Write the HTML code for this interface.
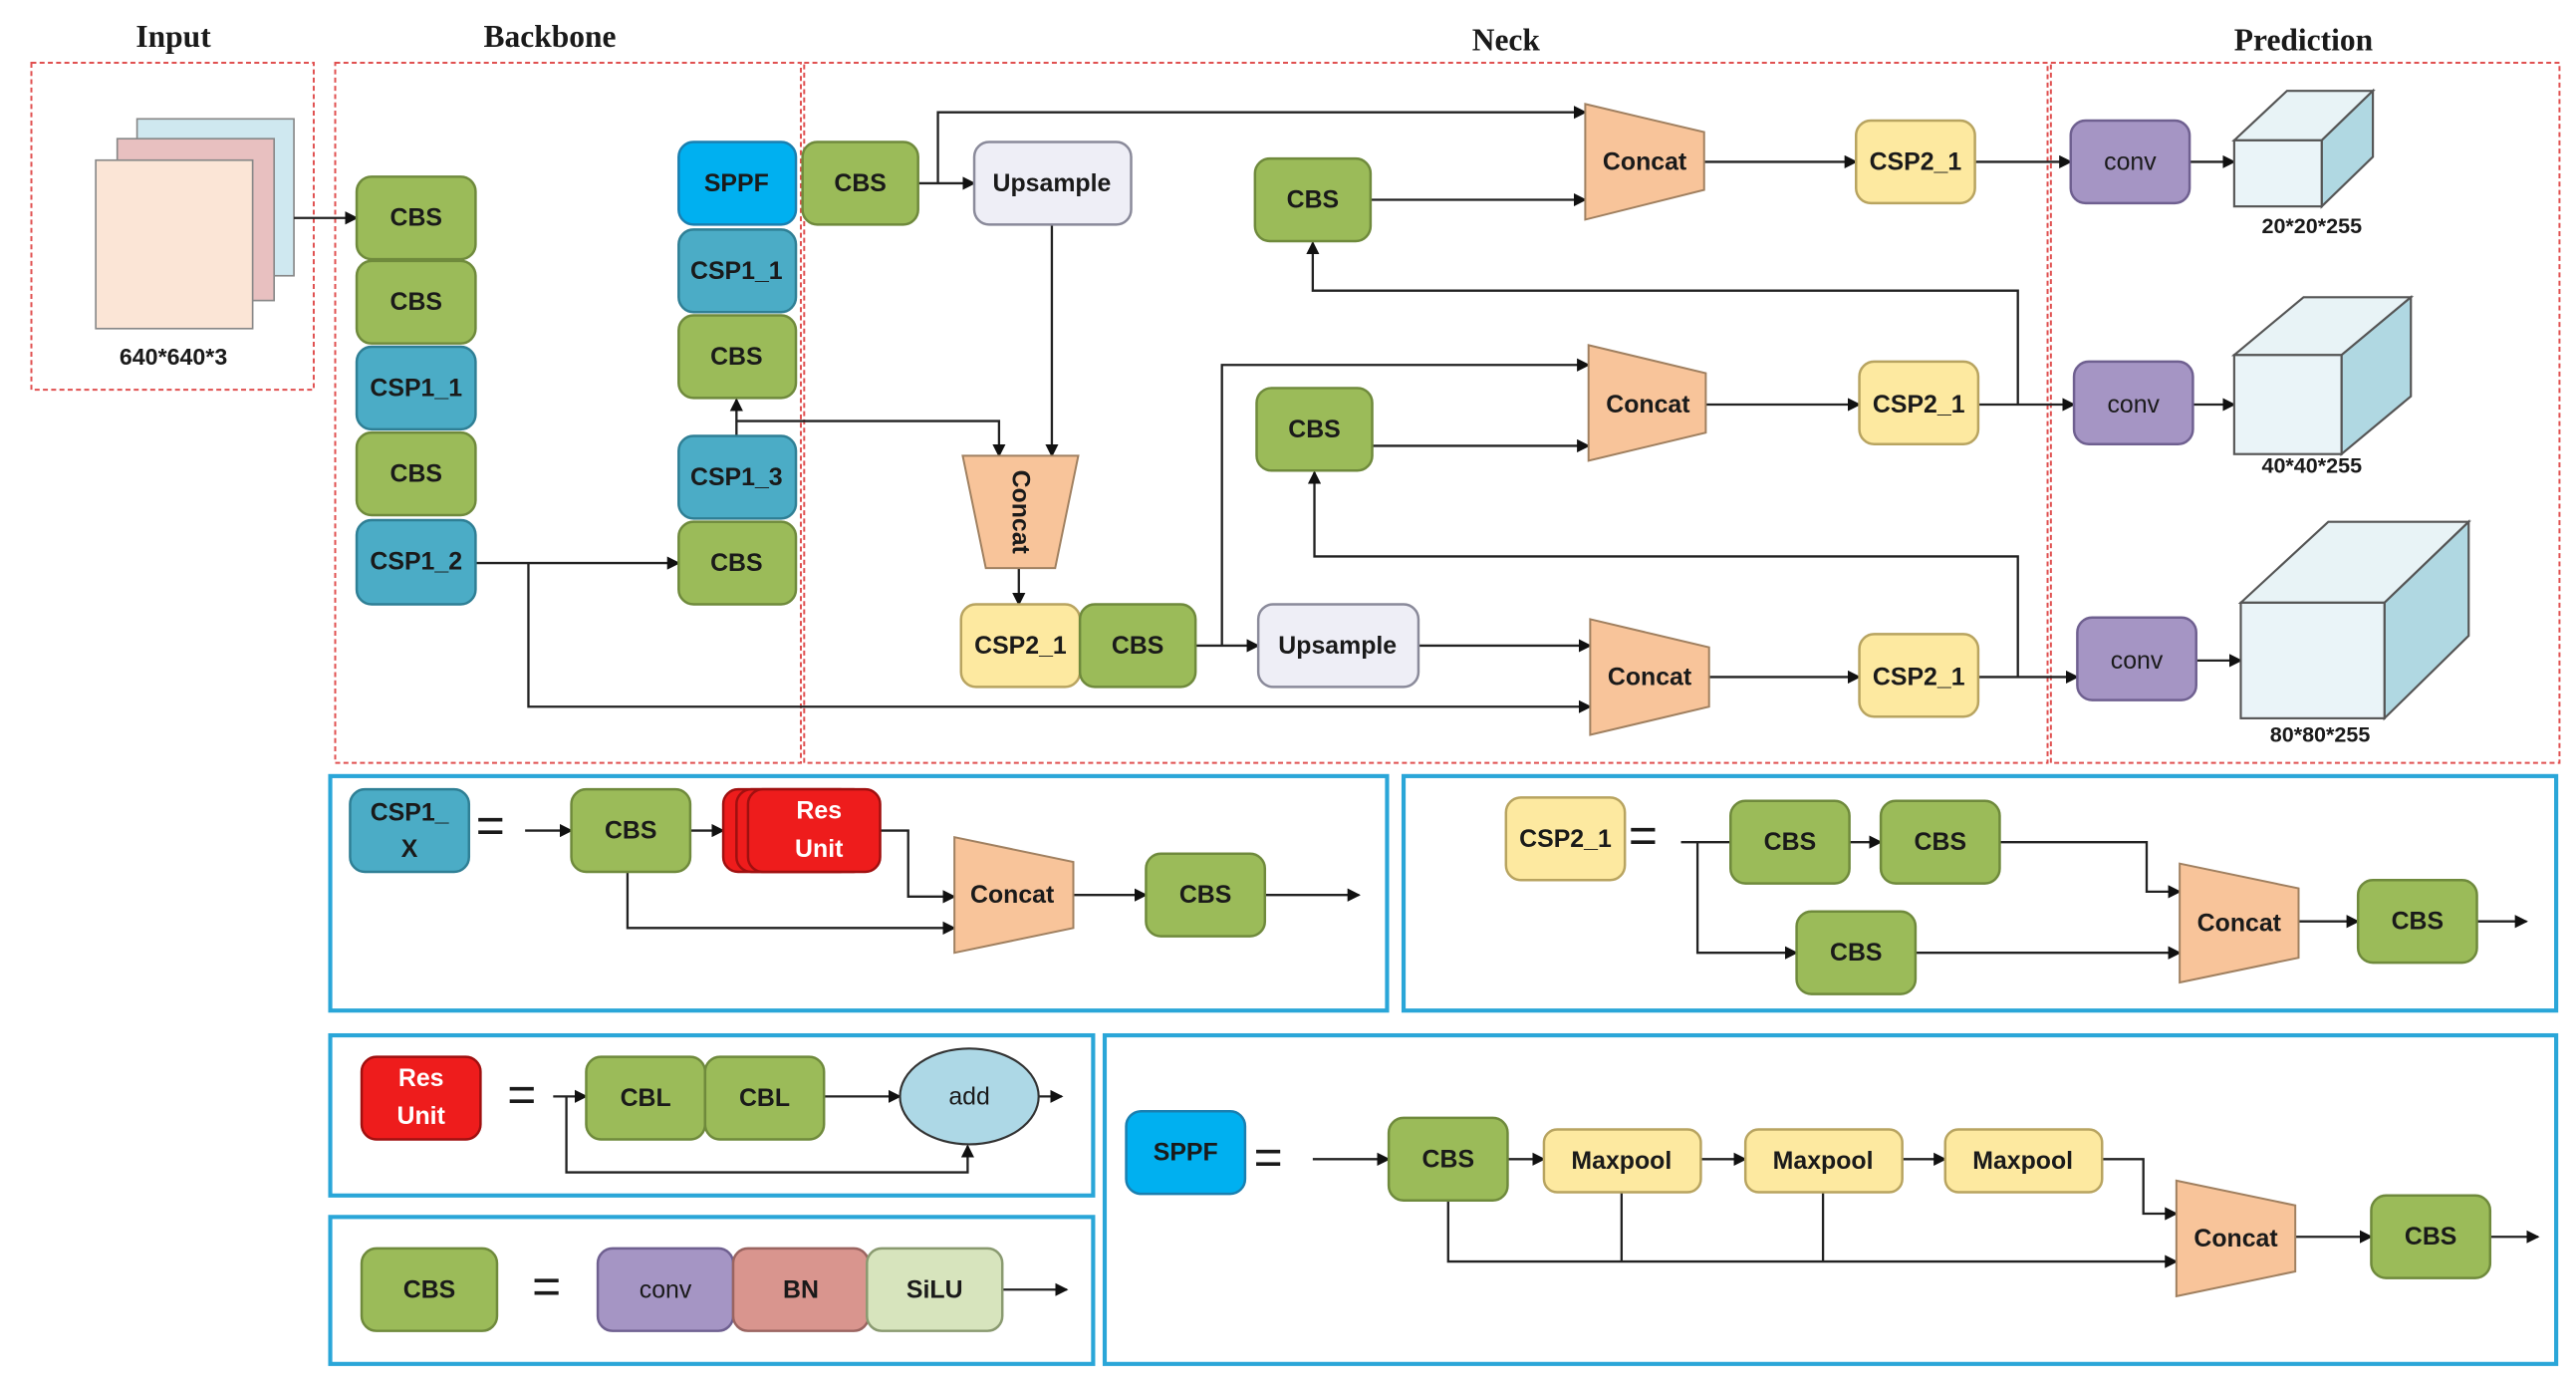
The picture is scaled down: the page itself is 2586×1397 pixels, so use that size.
<!DOCTYPE html>
<html><head><meta charset="utf-8"><style>
html,body{margin:0;padding:0;background:#fff;}
svg{display:block;}
text{font-family:"Liberation Sans",sans-serif;font-weight:bold;font-size:15px;fill:#1a1a1a;text-anchor:middle;dominant-baseline:central;}
.t{font-family:"Liberation Serif",serif;font-size:19px;}
.l{stroke:#222;stroke-width:1.4;fill:none;}
.d{fill:none;stroke:#e05050;stroke-width:1.2;stroke-dasharray:3 2;}
.p{fill:none;stroke:#2aa6d8;stroke-width:2.5;}
.g{fill:#9bbb59;stroke:#6f8a3c;stroke-width:1.5;}
.c{fill:#4bacc6;stroke:#2f7f95;stroke-width:1.5;}
.s{fill:#00b0f0;stroke:#1a7fb0;stroke-width:1.5;}
.y{fill:#fde9a0;stroke:#b8a460;stroke-width:1.5;}
.o{fill:#f8c49a;stroke:#a08060;stroke-width:1.2;}
.v{fill:#a595c4;stroke:#6f6090;stroke-width:1.5;}
.u{fill:#eeeef6;stroke:#8a8a9a;stroke-width:1.5;}
.r{fill:#ee1c1c;stroke:#a01010;stroke-width:1.5;}
.w{fill:#fff;}
</style></head><body>
<svg width="2586" height="1397" viewBox="0 0 1560 843" preserveAspectRatio="none">
<defs><marker id="a" markerWidth="8" markerHeight="8" refX="7" refY="4" orient="auto" markerUnits="userSpaceOnUse"><path d="M0,0 L8,4 L0,8 Z" fill="#111"/></marker></defs>

<text class="t" x="105" y="22">Input</text>
<text class="t" x="333" y="22">Backbone</text>
<text class="t" x="912" y="24">Neck</text>
<text class="t" x="1395" y="24">Prediction</text>

<rect class="d" x="19" y="38" width="171" height="198"/>
<rect class="d" x="203" y="38" width="282" height="424"/>
<rect class="d" x="487" y="38" width="753" height="424"/>
<rect class="d" x="1242" y="38" width="308" height="424"/>

<!-- input -->
<rect x="83" y="72" width="95" height="95" fill="#cfe8f0" stroke="#888"/>
<rect x="71" y="84" width="95" height="98" fill="#e8c0c0" stroke="#888"/>
<rect x="58" y="97" width="95" height="102" fill="#fbe5d6" stroke="#888"/>
<text x="105" y="216" style="font-size:14px">640*640*3</text>

<!-- lines -->
<path class="l" marker-end="url(#a)" d="M178,132 H216"/>
<path class="l" marker-end="url(#a)" d="M288,341 H411"/>
<path class="l" marker-end="url(#a)" d="M320,341 V428 H963"/>
<path class="l" marker-end="url(#a)" d="M556,111 H590"/>
<path class="l" marker-end="url(#a)" d="M568,111 V68 H960"/>
<path class="l" marker-end="url(#a)" d="M637,136 V276"/>
<path class="l" marker-end="url(#a)" d="M446,264 V242"/>
<path class="l" marker-end="url(#a)" d="M446,255 H605 V276"/>
<path class="l" marker-end="url(#a)" d="M617,344 V366"/>
<path class="l" marker-end="url(#a)" d="M724,391 H762"/>
<path class="l" marker-end="url(#a)" d="M740,391 V221 H962"/>
<path class="l" marker-end="url(#a)" d="M859,391 H963"/>
<path class="l" marker-end="url(#a)" d="M831,270 H962"/>
<path class="l" marker-end="url(#a)" d="M830,121 H960"/>
<path class="l" marker-end="url(#a)" d="M1032,98 H1124"/>
<path class="l" marker-end="url(#a)" d="M1196,98 H1254"/>
<path class="l" marker-end="url(#a)" d="M1033,245 H1126"/>
<path class="l" marker-end="url(#a)" d="M1198,245 H1256"/>
<path class="l" marker-end="url(#a)" d="M1035,410 H1126"/>
<path class="l" marker-end="url(#a)" d="M1198,410 H1258"/>
<path class="l" marker-end="url(#a)" d="M1222,245 V176 H795 V147"/>
<path class="l" marker-end="url(#a)" d="M1222,410 V337 H796 V286"/>
<path class="l" marker-end="url(#a)" d="M1326,98 H1353"/>
<path class="l" marker-end="url(#a)" d="M1328,245 H1353"/>
<path class="l" marker-end="url(#a)" d="M1330,400 H1357"/>

<!-- backbone -->
<rect class="g" x="216" y="107" width="72" height="50" rx="9"/><text x="252" y="132">CBS</text>
<rect class="g" x="216" y="158" width="72" height="50" rx="9"/><text x="252" y="183">CBS</text>
<rect class="c" x="216" y="210" width="72" height="50" rx="9"/><text x="252" y="235">CSP1_1</text>
<rect class="g" x="216" y="262" width="72" height="50" rx="9"/><text x="252" y="287">CBS</text>
<rect class="c" x="216" y="315" width="72" height="51" rx="9"/><text x="252" y="340">CSP1_2</text>
<rect class="s" x="411" y="86" width="71" height="50" rx="9"/><text x="446" y="111">SPPF</text>
<rect class="c" x="411" y="139" width="71" height="50" rx="9"/><text x="446" y="164">CSP1_1</text>
<rect class="g" x="411" y="191" width="71" height="50" rx="9"/><text x="446" y="216">CBS</text>
<rect class="c" x="411" y="264" width="71" height="50" rx="9"/><text x="446" y="289">CSP1_3</text>
<rect class="g" x="411" y="316" width="71" height="50" rx="9"/><text x="446" y="341">CBS</text>

<!-- neck -->
<rect class="g" x="486" y="86" width="70" height="50" rx="9"/><text x="521" y="111">CBS</text>
<rect class="u" x="590" y="86" width="95" height="50" rx="9"/><text x="637" y="111">Upsample</text>
<polygon class="o" points="583,276 653,276 639,344 597,344"/>
<text x="618" y="310" transform="rotate(90 618 310)">Concat</text>
<rect class="y" x="582" y="366" width="72" height="50" rx="9"/><text x="618" y="391">CSP2_1</text>
<rect class="g" x="654" y="366" width="70" height="50" rx="9"/><text x="689" y="391">CBS</text>
<rect class="u" x="762" y="366" width="97" height="50" rx="9"/><text x="810" y="391">Upsample</text>
<rect class="g" x="760" y="96" width="70" height="50" rx="9"/><text x="795" y="121">CBS</text>
<rect class="g" x="761" y="235" width="70" height="50" rx="9"/><text x="796" y="260">CBS</text>
<polygon class="o" points="960,63 1032,80 1032,115 960,133"/><text x="996" y="98">Concat</text>
<polygon class="o" points="962,209 1033,226 1033,262 962,279"/><text x="998" y="245">Concat</text>
<polygon class="o" points="963,375 1035,392 1035,428 963,445"/><text x="999" y="410">Concat</text>
<rect class="y" x="1124" y="73" width="72" height="50" rx="9"/><text x="1160" y="98">CSP2_1</text>
<rect class="y" x="1126" y="219" width="72" height="50" rx="9"/><text x="1162" y="245">CSP2_1</text>
<rect class="y" x="1126" y="384" width="72" height="50" rx="9"/><text x="1162" y="410">CSP2_1</text>

<!-- prediction -->
<rect class="v" x="1254" y="73" width="72" height="50" rx="9"/><text x="1290" y="98" style="font-weight:normal">conv</text>
<rect class="v" x="1256" y="219" width="72" height="50" rx="9"/><text x="1292" y="245" style="font-weight:normal">conv</text>
<rect class="v" x="1258" y="374" width="72" height="50" rx="9"/><text x="1294" y="400" style="font-weight:normal">conv</text>
<g stroke="#555" stroke-width="1.3">
<polygon points="1353,85 1385,55 1437,55 1406,85" fill="#e8f3f6"/>
<polygon points="1406,85 1437,55 1437,95 1406,125" fill="#b0d8e2"/>
<rect x="1353" y="85" width="53" height="40" fill="#eaf4f8"/>
<polygon points="1353,215 1395,180 1460,180 1418,215" fill="#e8f3f6"/>
<polygon points="1418,215 1460,180 1460,240 1418,275" fill="#b0d8e2"/>
<rect x="1353" y="215" width="65" height="60" fill="#eaf4f8"/>
<polygon points="1357,365 1410,316 1495,316 1444,365" fill="#e8f3f6"/>
<polygon points="1444,365 1495,316 1495,385 1444,435" fill="#b0d8e2"/>
<rect x="1357" y="365" width="87" height="70" fill="#eaf4f8"/>
</g>
<text x="1400" y="137" style="font-size:13px">20*20*255</text>
<text x="1400" y="282" style="font-size:13px">40*40*255</text>
<text x="1405" y="445" style="font-size:13px">80*80*255</text>

<!-- panel A -->
<rect class="p" x="200" y="470" width="640" height="142"/>
<path class="l" marker-end="url(#a)" d="M318,503 H346"/>
<path class="l" marker-end="url(#a)" d="M418,503 H438"/>
<path class="l" marker-end="url(#a)" d="M533,503 H550 V543 H578"/>
<path class="l" marker-end="url(#a)" d="M380,528 V562 H578"/>
<path class="l" marker-end="url(#a)" d="M650,542 H694"/>
<path class="l" marker-end="url(#a)" d="M766,542 H823"/>
<rect class="c" x="212" y="478" width="72" height="50" rx="9"/><text x="248" y="492">CSP1_</text><text x="248" y="514">X</text>
<text x="297" y="500" style="font-size:30px;font-weight:normal">=</text>
<rect class="g" x="346" y="478" width="72" height="50" rx="9"/><text x="382" y="503">CBS</text>
<rect class="r" x="438" y="478" width="80" height="50" rx="9"/>
<rect class="r" x="446" y="478" width="80" height="50" rx="9"/>
<rect class="r" x="453" y="478" width="80" height="50" rx="9"/>
<text x="496" y="491" style="fill:#fff">Res</text><text x="496" y="514" style="fill:#fff">Unit</text>
<polygon class="o" points="578,507 650,522 650,562 578,577"/><text x="613" y="542">Concat</text>
<rect class="g" x="694" y="517" width="72" height="50" rx="9"/><text x="730" y="542">CBS</text>

<!-- panel B -->
<rect class="p" x="850" y="470" width="698" height="142"/>
<path class="l" d="M1018,510 H1048"/>
<path class="l" marker-end="url(#a)" d="M1120,510 H1139"/>
<path class="l" marker-end="url(#a)" d="M1028,510 V577 H1088"/>
<path class="l" marker-end="url(#a)" d="M1211,510 H1300 V540 H1320"/>
<path class="l" marker-end="url(#a)" d="M1160,577 H1320"/>
<path class="l" marker-end="url(#a)" d="M1392,558 H1428"/>
<path class="l" marker-end="url(#a)" d="M1500,558 H1530"/>
<rect class="y" x="912" y="483" width="72" height="50" rx="9"/><text x="948" y="508">CSP2_1</text>
<text x="995" y="506" style="font-size:30px;font-weight:normal">=</text>
<rect class="g" x="1048" y="485" width="72" height="50" rx="9"/><text x="1084" y="510">CBS</text>
<rect class="g" x="1139" y="485" width="72" height="50" rx="9"/><text x="1175" y="510">CBS</text>
<rect class="g" x="1088" y="552" width="72" height="50" rx="9"/><text x="1124" y="577">CBS</text>
<polygon class="o" points="1320,523 1392,538 1392,580 1320,595"/><text x="1356" y="559">Concat</text>
<rect class="g" x="1428" y="533" width="72" height="50" rx="9"/><text x="1464" y="558">CBS</text>

<!-- panel C -->
<rect class="p" x="200" y="627" width="462" height="97"/>
<path class="l" marker-end="url(#a)" d="M335,664 H355"/>
<path class="l" marker-end="url(#a)" d="M499,664 H545"/>
<path class="l" marker-end="url(#a)" d="M629,664 H643"/>
<path class="l" marker-end="url(#a)" d="M343,664 V710 H586 V694"/>
<rect class="r" x="219" y="640" width="72" height="50" rx="9"/><text x="255" y="653" style="fill:#fff">Res</text><text x="255" y="676" style="fill:#fff">Unit</text>
<text x="316" y="663" style="font-size:30px;font-weight:normal">=</text>
<rect class="g" x="355" y="640" width="72" height="50" rx="9"/><text x="391" y="665">CBL</text>
<rect class="g" x="427" y="640" width="72" height="50" rx="9"/><text x="463" y="665">CBL</text>
<ellipse cx="587" cy="664" rx="42" ry="29" fill="#add8e6" stroke="#333" stroke-width="1.3"/><text x="587" y="664" style="font-weight:normal">add</text>

<!-- panel D -->
<rect class="p" x="200" y="737" width="462" height="89"/>
<path class="l" marker-end="url(#a)" d="M607,781 H646"/>
<rect class="g" x="219" y="756" width="82" height="50" rx="9"/><text x="260" y="781">CBS</text>
<text x="331" y="779" style="font-size:30px;font-weight:normal">=</text>
<rect class="v" x="362" y="756" width="82" height="50" rx="9"/><text x="403" y="781" style="font-weight:normal">conv</text>
<rect x="444" y="756" width="82" height="50" rx="9" fill="#d9958e" stroke="#9a6460" stroke-width="1.5"/><text x="485" y="781">BN</text>
<rect x="525" y="756" width="82" height="50" rx="9" fill="#d7e4bd" stroke="#8a9a70" stroke-width="1.5"/><text x="566" y="781">SiLU</text>

<!-- panel E -->
<rect class="p" x="669" y="627" width="879" height="199"/>
<path class="l" marker-end="url(#a)" d="M795,702 H841"/>
<path class="l" marker-end="url(#a)" d="M913,702 H935"/>
<path class="l" marker-end="url(#a)" d="M1030,702 H1057"/>
<path class="l" marker-end="url(#a)" d="M1152,702 H1178"/>
<path class="l" marker-end="url(#a)" d="M1273,702 H1298 V735 H1318"/>
<path class="l" marker-end="url(#a)" d="M877,727 V764 H1318"/>
<path class="l" d="M982,722 V764 M1104,722 V764"/>
<path class="l" marker-end="url(#a)" d="M1390,749 H1436"/>
<path class="l" marker-end="url(#a)" d="M1508,749 H1537"/>
<rect class="s" x="682" y="673" width="72" height="50" rx="9"/><text x="718" y="698">SPPF</text>
<text x="768" y="701" style="font-size:30px;font-weight:normal">=</text>
<rect class="g" x="841" y="677" width="72" height="50" rx="9"/><text x="877" y="702">CBS</text>
<rect class="y" x="935" y="684" width="95" height="38" rx="8"/><text x="982" y="703">Maxpool</text>
<rect class="y" x="1057" y="684" width="95" height="38" rx="8"/><text x="1104" y="703">Maxpool</text>
<rect class="y" x="1178" y="684" width="95" height="38" rx="8"/><text x="1225" y="703">Maxpool</text>
<polygon class="o" points="1318,715 1390,730 1390,770 1318,785"/><text x="1354" y="750">Concat</text>
<rect class="g" x="1436" y="724" width="72" height="50" rx="9"/><text x="1472" y="749">CBS</text>
</svg>
</body></html>
